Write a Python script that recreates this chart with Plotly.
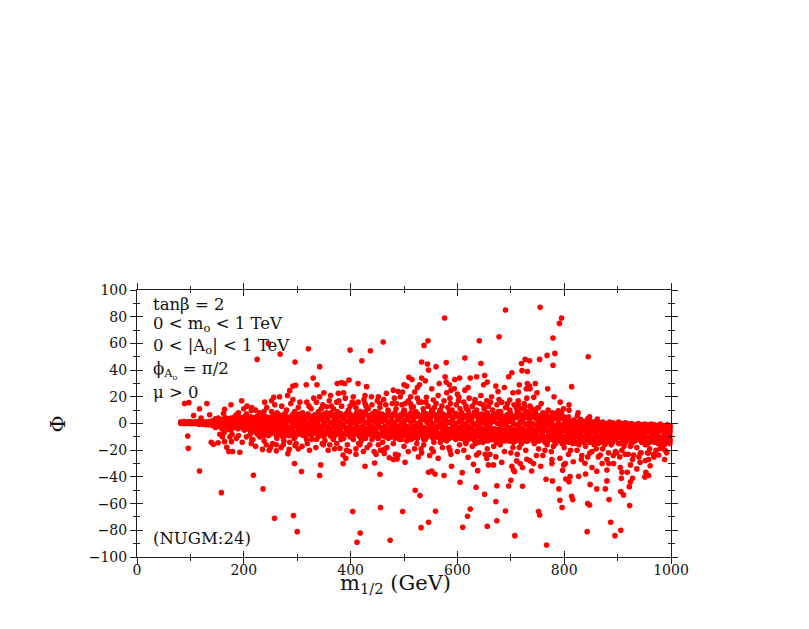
#!/bin/python3
# Scatter of the phase phi against m_1/2

import plotly.graph_objects as go

# Dense band, one column per m_half value, several phi values per column
band_m = [
  82,88,93,99,105,110,116,123,129,134,141,
  147,152,159,165,171,176,183,189,194,201,207,
  213,218,225,231,237,242,249,255,261,266,273,
  279,285,291,296,303,309,315,320,327,333,339,
  345,350,357,363,369,374,381,387,393,399,404,
  411,417,423,428,435,441,447,452,459,465,471,
  476,483,489,495,501,507,513,518,525,531,537,
  543,549,554,561,567,573,578,585,591,597,603,
  608,615,621,627,632,639,645,651,656,663,669,
  675,681,686,693,699,705,710,717,723,729,735,
  740,747,753,759,764,771,777,783,789,794,801,
  807,813,818,825,831,837,843,848,855,861,867,
  872,879,885,891,897,902,909,915,921,926,933,
  939,945,951,956,963,969,975,980,987,993,998]
band_a = [
  1,1.5,1,1.5,1,1,1.5,1.5,1,1.5,2,
  3.5,4,3,4.5,3.5,4,5,3.5,4.5,5,4,
  5,4.5,5.5,4,6,5,4.5,6,5,6.5,5,
  6,4.5,6.5,5,7,6,5,7,5.5,6.5,7.5,
  5.5,7,6,8,6.5,5,7.5,6,8,7,5.5,
  8,6,7,9,6,7.5,5.5,8,7,6,8.5,
  6.5,8,5.5,7,9,6,8,6.5,7.5,6,8.5,
  7,5.5,8,6.5,9,7,6,8,5.5,7.5,6.5,
  8,6,7,5.5,8.5,6.5,7,6,8,5.5,7,
  6,7.5,5,6.5,8,5.5,6,7,5,6.5,5,
  7,5,6,4.5,6.5,5,4,5.5,4.5,6,4,
  3,1.5,2.5,1,3,1.5,0.5,2,1,1.5,0.5,
  1,0,1,0.5,-0.5,1,0,0.5,-0.5,0,-1,
  0,-1,-0.5,-1.5,-0.5,-1,-1.5,-0.5,-1.5,-1,-2]
band_b = [
  0.5,1,0.5,1,0.5,1,0.5,1,0.5,1,0.5,
  1,2,1,1.5,2,0.5,2,1,2.5,1.5,1,
  2.5,1,2,3,0.5,2,1.5,2.5,1,3,1.5,
  2,3,0.5,2.5,1,3,2,0.5,3,1.5,2.5,
  3,1,2,0.5,3,2,1,3.5,1.5,2.5,0.5,
  3,1.5,2.5,0.5,3,2,1,3,1.5,2.5,1,
  2.5,1,3,0.5,2,3,1,2.5,0,2,3,
  1,2.5,0,2,3,0.5,2,1,2.5,0,1.5,
  2,0,2,1,-0.5,2,1,0,2,0.5,1.5,
  0,1.5,-0.5,1,1.5,0,-1,1,0.5,-0.5,1,
  0,-1,0.5,-0.5,1,-1,0,-1.5,0.5,-1,0,
  -1,0,-1.5,-0.5,-1,0,-2,-1,-0.5,-1.5,-1,
  -1,-1.5,-0.5,-2,-1,-1.5,-0.5,-2,-1,-1.5,-2,
  -1,-2,-1.5,-1,-2,-1.5,-2,-1,-2.5,-1.5,-2]
band_c = [
  0.5,0.5,0,0.5,0,0.5,-0.5,0,0.5,-0.5,0,
  -1,0,-1.5,-0.5,-1,-2,0,-2,-0.5,-1,-2.5,
  -1,-2.5,-1,-0.5,-3,-1,-2,-0.5,-3,-1,-2,
  -1,-3,-1.5,-0.5,-3,-1,-2,-3.5,-1,-2,-0.5,
  -3,-1,-2.5,-4,-0.5,-2,-3,-1,-3.5,-1.5,-4,
  -1,-3,-2,-4,-1,-2.5,-3.5,-1,-3,-2,-4,
  -1.5,-3,-2,-4,-1,-2.5,-3.5,-2,-4,-1,-3,
  -3.5,-1.5,-4,-2.5,-1,-3.5,-2,-4.5,-2,-3.5,-3,
  -2,-4,-2.5,-3.5,-5,-2,-3.5,-4.5,-2,-3.5,-4,
  -4.5,-2.5,-5,-3,-3,-4.5,-5,-3,-4,-5,-3,
  -4,-5,-3,-4.5,-3,-5,-3.5,-4.5,-3,-5,-3.5,
  -4.5,-3.5,-5,-4,-4.5,-3.5,-5,-4,-4.5,-5,-3.5,
  -4,-5,-3.5,-5,-4,-5,-3.5,-5.5,-4,-5,-5.5,
  -3.5,-5,-5.5,-4,-5.5,-4,-5,-3.5,-5.5,-4.5,-5]
band_d = [
  0,0,0.5,0,0.5,0,0,-0.5,-1,-1,-1.5,
  -3,-2,-4,-3,-4.5,-5,-3,-4,-3,-5,-4,
  -5,-4,-6,-4.5,-5.5,-4,-6,-4,-5.5,-4.5,-6,
  -4.5,-6,-5,-6.5,-5,-4.5,-6.5,-5,-6,-4.5,-6.5,
  -5.5,-7,-5,-6.5,-7,-5,-6,-7.5,-5.5,-6.5,-7,
  -5.5,-7,-6,-7.5,-5.5,-7,-6,-8,-6,-7,-7.5,
  -6,-7.5,-6,-8,-6,-7,-8,-6,-7.5,-6,-8,
  -7,-6,-8,-6.5,-7.5,-8,-6,-7.5,-7,-8.5,-6.5,
  -7.5,-8.5,-6.5,-8,-9,-7,-8,-9,-7,-8.5,-7.5,
  -9,-7,-8.5,-7.5,-9,-8,-9.5,-7.5,-8.5,-9.5,-8,
  -9,-7.5,-9.5,-8,-10,-8,-9,-10,-8,-9,-10,
  -8,-9.5,-8.5,-10,-9,-10,-8,-9.5,-10,-8.5,-10,
  -9,-10,-8,-10,-9,-10.5,-8.5,-10,-9,-10.5,-9,
  -8.5,-10,-9,-10.5,-8.5,-10,-9,-10.5,-8,-10,-9.5]
band_e = [
  0.5,0.5,0,0.5,0.5,0,0.5,1,0.5,1,1,
  2.5,3,2,3,2.5,3,3.5,2.5,3,3.5,3,
  3.5,3,4,2.5,4,3.5,3,4.5,3.5,4.5,3,
  4,2,4.5,3.5,5,4.5,3,5,4,5,5,
  4,5.5,4,6,5,3.5,5.5,4.5,6,5,3.5,
  6,4.5,5,6.5,4.5,5.5,4,6,5,4.5,6,
  5,6,4,5,6.5,4.5,6,5,5.5,4.5,6,
  5,4,6,4.5,6.5,5,4.5,6,4,5.5,5,
  5.5,4.5,5,4,6,4.5,5,4,6,4,5,
  4.5,5,3.5,4.5,5.5,4,4.5,5,3.5,4.5,3.5,
  5,3.5,4,3,4.5,3,2.5,4,3,4,2.5,
  1,0,1,-0.5,1.5,0,-0.5,0.5,0,0,-1,
  0,-1,-0.5,-1,-1.5,-0.5,-1,-1,-1.5,-1,-2,
  -1.5,-2,-1.5,-2.5,-2,-2,-2.5,-2,-3,-2,-3]
band_f = [
  0.5,0,0.5,0,0.5,0,1,0,-0.5,0,-1,
  -2,-1,-2.5,-1.5,-3,-3.5,-1.5,-3,-1.5,-3,-3,
  -3.5,-3,-4,-2.5,-4,-2.5,-4,-2.5,-4,-3,-4,
  -3,-4.5,-3,-2,-4.5,-2.5,-3.5,-5,-2.5,-4,-2.5,
  -4.5,-2.5,-4,-5.5,-2,-3.5,-4.5,-2.5,-5,-3,-5.5,
  -3,-5,-3.5,-5.5,-3,-4.5,-5,-2.5,-4.5,-3.5,-5.5,
  -3,-5,-3.5,-6,-2.5,-4.5,-5.5,-3.5,-5.5,-2.5,-4.5,
  -5,-3,-5.5,-4,-2.5,-5.5,-3.5,-6,-3.5,-5.5,-4.5,
  -3.5,-5.5,-4.5,-5,-6.5,-3.5,-5,-6.5,-3.5,-5,-5.5,
  -6,-4,-6.5,-5,-5,-6,-7,-4.5,-5.5,-7,-5,
  -5.5,-6.5,-5,-6,-5,-6.5,-5,-6.5,-5,-7,-5.5,
  -6,-5.5,-6.5,-6,-6.5,-5.5,-6.5,-6,-6,-6.5,-5.5,
  -6,-6.5,-5.5,-6.5,-6,-7,-5.5,-7,-6,-7,-7,
  -5.5,-7,-7,-6,-7,-6,-7,-5.5,-7,-6,-7]
band_g = [
  1,0.5,1,0.5,0,0.5,1,0,0.5,-0.5,-0.5,
  2,1,3,0,1,-1,1,-1,0.5,-2,-2,
  -3,-6,-8,-7,-9,-7,-8,-7,-9,-8,-10,
  -7,-9,-8,-10,-8,-7,-9,-8,-9,-7,-10,
  -8,-10,-7.5,-9.5,-10,-8,-9,-11,-8,-10,-10,
  -8,-10,-9,-11,-8,-10,-9,-11,-9,-10,-11,
  -9,-11,-9,-12,-9,-10,-12,-9,-11,-9,-12,
  -10,-9,-11,-10,-11,-12,-9,-11,-10,-12,-10,
  -11,-12,-10,-11,-13,-10,-11,-13,-10,-12,-11,
  -12,-10,-12,-11,-13,-11,-13,-11,-12,-13,-11,
  -12,-11,-13,-11,-14,-11,-12,-14,-11,-12,-14,
  -11,-13,-12,-14,-12,-14,-11,-13,-14,-12,-14,
  -12,-14,-11,-14,-12,-15,-12,-14,-12,-15,-13,
  -12,-14,-13,-15,-12,-14,-13,-15,-11,-14,-13]
band_low = [
  (605,-11),(614,-13),(622,-11),(631,-12),(640,-14),(648,-11),(657,-13),(665,-12),(673,-14),(681,-11),
  (689,-13),(697,-12),(705,-14),(713,-12),(720,-15),(728,-13),(736,-12),(744,-15),(752,-13),(760,-12),
  (768,-14),(776,-12),(784,-15),(792,-13),(800,-12),(808,-14),(816,-12),(824,-15),(832,-13),(840,-12),
  (848,-14),(856,-12),(864,-15),(872,-13),(880,-12),(888,-14),(896,-12),(904,-15),(912,-13),(920,-12),
  (928,-14),(936,-12),(944,-13),(952,-12),(960,-14),(968,-12),(976,-11),(984,-13),(992,-11),(998,-12)]

# Points above the band, near the band first
upper_cloud = [
  (190,8),(205,7),(222,10),(230,8),(243,12),(252,9),(262,8),(271,13),(280,10),(288,15),(295,9),(302,12),
  (310,8),(318,16),(326,11),(331,19),(340,9),(348,14),(355,8),(360,17),(368,11),(375,9),(383,13),(390,19),
  (396,10),(403,16),(410,12),(418,9),(425,18),(433,11),(440,14),(446,9),(455,12),(462,18),(470,10),(478,15),
  (485,11),(493,20),(500,10),(508,17),(514,12),(522,9),(528,16),(536,11),(545,13),(552,10),(560,15),(568,10),
  (575,17),(582,12),(590,10),(598,14),(605,11),(612,16),(620,10),(628,13),(636,10),(642,15),(650,11),(658,13),
  (666,10),(674,14),(681,9),(690,12),(698,10),(706,14),(712,9),(720,11),(728,9),(736,13),(745,9),(752,12),
  (760,8),(770,10),(778,8),(786,7),(795,8),
  (200,11),(215,12),(238,9),(258,14),(276,7),(292,18),(305,16),(322,13),(345,11),(364,13),(378,17),(399,13),
  (414,16),(429,13),(450,17),(466,14),(482,19),(496,14),(512,15),(525,19),(541,16),(557,12),(571,13),(587,15),
  (602,17),(616,13),(633,18),(648,14),(662,16),(678,18),(694,15),(710,12),(725,15),(740,11),(757,15)]
upper_left = [
  (246,60),(225,48),(268,52),(296,46),(321,56),(342,42.6),(330,34),(399,55),(437,54.5),(461,61),(421,47),
  (397,32.6),(383,30.6),(375,30),(389,30),(317,29),(337,29),(297,28.6),(292,28),(286,24.6),(282,21),(267,20),
  (256,19.6),(252,17),(239,16),(196,17),(176,14),(131,15),(117,11),(89,15),(97,15.6),(164,10.6),(162,7.6),
  (206,13),(214,9.6),(186,6.6),(136,6.6),(106,6),(120,4),
  (342,20),(350,23),(362.5,21),(377,22.6),(387,23),(414,30),(430,27.6),(405,20),(427,21),(439,20),(452,20),
  (467,22.6),(480,25),(489,24),(336,16),(355,12.6),(374,16),(405,15),(427,15),(455,15),(486,15)]
upper_right = [
  (690,85),(755,87),(795,79),(791,75),(576,79),(545,62),(537.5,58.5),(641,62),(678,65),(779,64),(768,51),
  (782.5,52.5),(845,50),(754,48),(727,48),(735,47),(614,49),(644,45),(579,45.6),(533,46),(544,44.6),(560,42.6),
  (546,40),(720,45),(779,43.6),(721,39.6),(731,39),(702,38),(696,35),(651,36),(636,35),(624,34),(604,34),
  (595,33),(577,35),(533,34),(540,32),(509,34.6),(515,33),(656,31),(649,29),(579,31),(585,29),(566,30),
  (529,29),(500,29),(505,28),(525,27),(552,26),(520,23.6),(497.5,23.6),(512.5,20),(620,27),(614,25),(594,26),
  (588,25),(580,23),(600,22),(672,28),(688,27),(676,24),(716,29),(731,30),(746,30),(735,28),(729,26),(736,26),
  (704,23),(714,23.6),(749,23),(769,26),(743,19.6),(730,19),(781,20),(814,27.6),(792.5,16),(809,14),(799,11),
  (789,9.6),(785,7.6),(809,10),(826,8),(824.5,5.6),(799,5),(808,5),(847.5,5),(844,3.6),(862,3.4),(750,11.6),
  (746,8),(767,7),(733,9),(721,6.4),(644,21),(664,20),(564,21),(622,19),(542,19.6),(555,17.6),(586,19),
  (603,19.6),(714,17),(698,17.6),(683,16),(655,17),(633,16),(533,16),(726,12.6),(714,14),(692,12.6),(677,9),
  (655,7.6),(617,11),(586,9.6),(552,9),(517.5,12.6),(502,15)]

# Points below the band
lower_cloud = [
  (155,-8),(163,-7),(178,-8),(190,-9),(197,-14),(205,-10),(212,-8),(222,-17),(230,-10),(238,-13),(246,-9),
  (254,-15),(262,-11),(270,-18),(278,-9),(286,-14),(294,-11),(302,-19),(311,-9),(319,-15),(327,-12),(335,-18),
  (343,-9),(352,-13),(358,-20),(366,-10),(374,-15),(382,-12),(394,-16),(402,-9),(410,-19),(420,-13),(428,-10),
  (436,-16),(444,-21),(451,-11),(460,-14),(468,-18),(475,-10),(484,-23),(492,-12),(500,-17),(508,-21),(516,-11),
  (524,-15),(532,-19),(540,-12),(548,-24),(556,-14),(564,-10),(572,-18),(580,-13),(588,-23),(596,-11),(604,-16),
  (612,-20),(620,-12),(628,-17),(640,-22),(648,-14),(656,-19),(664,-12),(672,-25),(680,-16),(688,-21),(696,-13),
  (704,-18),(712,-23),(720,-15),(728,-20),(736,-28),(744,-14),(752,-19),(760,-24),(768,-16),(776,-21),(784,-14),
  (792,-26),(800,-18),(808,-23),(816,-15),(824,-20),(832,-27),(840,-17),(848,-22),(856,-16),(864,-25),(872,-19),
  (880,-27),(888,-16),(896,-21),(904,-25),(912,-17),(920,-23),(928,-27),(936,-18),(944,-22),(952,-16),(960,-19),
  (968,-25),(976,-15),(984,-18),(992,-22),(998,-15),
  (215,-12),(250,-18),(275,-13),(298,-15),(323,-20),(347,-15),(370,-19),(398,-21),(415,-15),(440,-12),(456,-20),
  (480,-15),(505,-13),(520,-19),(537,-16),(552,-19),(568,-14),(584,-18),(600,-21),(616,-15),(634,-15),(652,-23),
  (668,-17),(684,-13),(700,-22),(716,-18),(732,-13),(748,-24),(764,-20),(780,-17),(796,-15),(812,-20),(828,-16),
  (844,-25),(860,-19),(876,-16),(892,-24),(908,-20),(924,-17),(940,-25),(956,-22),(972,-20),(988,-16)]
lower_left = [
  (95,-9.4),(96,-18.6),(117,-35.6),(158,-51.8),(218,-38.8),(236,-49),(257.5,-71),(293,-69),(300,-81),(295,-30),
  (308,-36),(344,-31),(342,-39),(386,-30),(427,-32),(445,-29.6),(455,-38),(404,-66),(456,-63),(418,-82),(412,-89),
  (474,-87.5),(172,-21),(179,-21),(192.5,-21.6),(235,-19.4),(247.5,-20),(261,-20.4),(282.5,-22.6),(285,-19.4),
  (139,-14),(143,-15.6),(152,-14.4),(168,-17.8),(160,-10),(174,-10),(164,-13.6),(177,-13.6),(186,-11),(214,-15),
  (217,-12),(242,-16),(261,-16),(274,-16),(296,-16.6),(309,-17),(349,-16),(361,-16),(380,-18.6),(386,-23.6),
  (391,-26),(392.5,-20),(410,-23),(424,-21),(431,-18),(447.5,-23),(463,-19.4),(463,-22.4),(472.5,-25.6),(480,-27),
  (487,-26.6),(489,-23.6),(317.5,-12),(336,-12),(367.5,-12),(405,-12),(417.5,-16),(452,-16)]
lower_right = [
  (502,-29),(546,-36.6),(552,-35.6),(558,-37.8),(575,-39),(609,-36.8),(638,-35.3),(605,-44),(635,-47.8),(674,-46.6),
  (696,-46.8),(722,-47),(700,-42.6),(521,-50),(530,-54),(651,-53),(672,-58.5),(497.5,-66),(559,-65.8),(624,-64),
  (690,-65.5),(752,-66),(754,-68.5),(619,-69.5),(674,-72.8),(546,-74),(532,-78),(610,-77.8),(656,-77),(707.5,-84),
  (767,-91),(843,-81),(887,-74),(906,-80),(895,-84),(922.5,-61.5),(884,-57),(844,-60),(847.5,-61),(792,-57.5),
  (796,-63),(814,-54.5),(816,-57),(790,-49),(861,-49),(877,-49),(906,-51),(911,-53.5),(922,-47.3),(766,-41.8),
  (778,-43),(803,-41.6),(809,-43.6),(811,-39.8),(827,-39.6),(840,-37.8),(848.5,-45.6),(880,-43),(907,-41),(928,-41),
  (924,-43.6),(951,-40),(958,-39),(953,-36.6),(861,-35.8),(880,-34.8),(908,-36.6),(918,-36.6),(936,-34),(702,-32),
  (705,-34.8),(707,-36),(739,-35.6),(722,-33),(756,-32),(797,-35),(717.5,-30),(742.5,-30),(730,-26.8),(777,-30),
  (589,-32),(630,-30.6),(658,-31),(667.5,-31),(683,-29),(711,-28),(564,-26),(527,-25),(533,-22),(555,-21),(586,-20),
  (620,-25.3),(636,-23.6),(655,-26),(661,-23),(777,-27),(799,-31),(802,-30),(817,-28.6),(833,-24),(839,-29.8),
  (852,-33),(871,-30),(883.5,-30),(892.5,-30),(905,-33),(924,-31),(942,-29),(961,-31.6),(988,-27),(977,-23.6),
  (967.5,-23),(958,-27),(952,-27.8),(852,-21),(867.5,-23.6),(883,-22),(898,-22),(914,-23),(930,-23.6),(942.5,-22),
  (958,-22),(980,-18.6),(989,-20)]

# Text labels
note_lines = ['tanβ = 2', '0 < m<sub>o</sub> < 1 TeV', '0 < |A<sub>o</sub>| < 1 TeV',
  'ϕ<sub>A<sub>o</sub></sub> = π/2', 'μ > 0', '(NUGM:24)']
note_y = [89, 74, 58, 40, 23, -86]

textFont = 'DejaVu Serif'
inkColor = '#222222'

m_half = []
phi = []
for column in (band_a, band_b, band_c, band_d, band_e, band_f, band_g):
  m_half += band_m
  phi += column
for pairs in (band_low, upper_cloud, upper_left, upper_right, lower_cloud, lower_left, lower_right):
  m_half += [p[0] for p in pairs]
  phi += [p[1] for p in pairs]

# Ticks cross the frame: one pair of axes draws them outwards, an overlaid pair inwards
def frameAxis(dtick, minorDtick, direction, showLabels):
  return dict(
    showgrid = False,
    zeroline = False,
    showline = True,
    linecolor = inkColor,
    linewidth = 1,
    mirror = 'allticks',
    ticks = direction,
    ticklen = 6,
    tickwidth = 1,
    tickcolor = inkColor,
    dtick = dtick,
    minor = dict(ticks = direction, dtick = minorDtick, ticklen = 3, tickwidth = 1, tickcolor = inkColor),
    showticklabels = showLabels,
    tickfont = dict(family = textFont, size = 14, color = '#111111')
  )

fig = go.Figure()
fig.add_trace(go.Scatter(
  x = m_half,
  y = phi,
  mode = 'markers',
  marker = dict(color = '#ff0000', size = 5.6, line = dict(width = 0)),
  showlegend = False,
  cliponaxis = False
))
# Empty trace, only there so that the overlaid axes get drawn
fig.add_trace(go.Scatter(x = [], y = [], xaxis = 'x2', yaxis = 'y2', showlegend = False))

xMain = frameAxis(200, 100, 'outside', True)
xMain['range'] = [0, 1000]
xMain['ticklabelstandoff'] = -6
yMain = frameAxis(20, 10, 'outside', True)
yMain['range'] = [-100, 100]
xOver = frameAxis(200, 100, 'inside', False)
xOver.update(range = [0, 1000], overlaying = 'x', anchor = 'y2')
yOver = frameAxis(20, 10, 'inside', False)
yOver.update(range = [-100, 100], overlaying = 'y', anchor = 'x2')

annotations = []
for text, y in zip(note_lines, note_y):
  annotations.append(dict(x = 26, y = y, xref = 'x', yref = 'y', text = text, showarrow = False,
    xanchor = 'left', yanchor = 'middle', font = dict(family = textFont, size = 16.5, color = '#111111')))
annotations.append(dict(x = 0.485, y = -0.045, xref = 'paper', yref = 'paper', text = 'm<sub>1/2</sub> (GeV)',
  showarrow = False, xanchor = 'center', yanchor = 'top', font = dict(family = textFont, size = 21, color = '#111111')))
annotations.append(dict(x = -0.148, y = 0.5, xref = 'paper', yref = 'paper', text = 'Φ', textangle = -90,
  showarrow = False, xanchor = 'center', yanchor = 'middle', font = dict(family = textFont, size = 21, color = '#111111')))

# The page body adds 8px around the plot, so the figure is 8px smaller on each axis
fig.update_layout(
  width = 801,
  height = 621,
  autosize = False,
  paper_bgcolor = 'white',
  plot_bgcolor = 'white',
  margin = dict(l = 129, r = 138, t = 282, b = 72, pad = 0),
  showlegend = False,
  xaxis = xMain,
  yaxis = yMain,
  xaxis2 = xOver,
  yaxis2 = yOver,
  annotations = annotations
)

fig.write_html("out.html")
